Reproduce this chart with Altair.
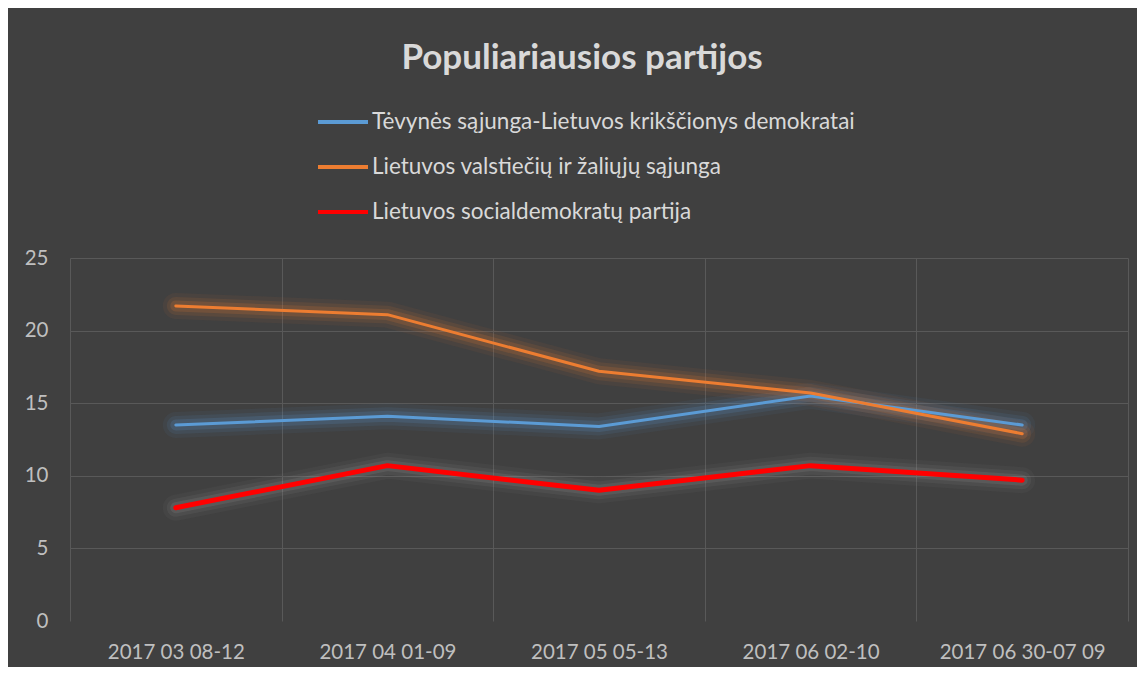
import altair as alt
import pandas as pd

periods = ["2017 03 08-12", "2017 04 01-09", "2017 05 05-13", "2017 06 02-10", "2017 06 30-07 09"]
series = [
    "Tėvynės sąjunga-Lietuvos krikščionys demokratai",
    "Lietuvos valstiečių ir žaliųjų sąjunga",
    "Lietuvos socialdemokratų partija",
]
ts_lkd = [13.5, 14.1, 13.4, 15.5, 13.5]
lvzs = [21.7, 21.1, 17.2, 15.7, 12.9]
lsdp = [7.8, 10.7, 9.0, 10.7, 9.7]
colors = ["#5B9BD5", "#ED7D31", "#FF0000"]
glow_colors = ["#5B9BD5", "#ED7D31", "#9a9a9a"]

rows = []
for s, vals in zip(series, [ts_lkd, lvzs, lsdp]):
    for i, (p, v) in enumerate(zip(periods, vals)):
        rows.append({"period": p, "series": s, "value": v, "order": i})
df = pd.DataFrame(rows)

FONT = "Lato"
LABEL_COLOR = "#bfbfbf"
GRID = "#595959"

x_enc = alt.X(
    "period:N",
    sort=periods,
    bandPosition=0.5,
    scale=alt.Scale(type="band", paddingInner=0, paddingOuter=0),
    axis=alt.Axis(
        title=None, labelAngle=0, tickBand="extent", grid=True, gridColor=GRID,
        domain=False, ticks=False, labelFontSize=20.5, labelColor=LABEL_COLOR,
        labelPadding=21, labelFont=FONT,
    ),
)
y_enc = alt.Y(
    "value:Q",
    scale=alt.Scale(domain=[0, 25]),
    axis=alt.Axis(
        title=None, values=[0, 5, 10, 15, 20, 25], grid=True, gridColor=GRID,
        gridOpacity=alt.expr("datum.value == 0 ? 0 : 1"),
        domain=False, ticks=False, labelFontSize=20.5, labelColor=LABEL_COLOR,
        labelPadding=22, labelFont=FONT,
    ),
)

base = alt.Chart(df)

glow_layers = []
for s, gc in zip(series, glow_colors):
    for w, op in [(26, 0.06), (18, 0.10), (11, 0.16)]:
        glow_layers.append(
            base.transform_filter(alt.datum.series == s).mark_line(
                strokeWidth=w, opacity=op, strokeCap="round", strokeJoin="round", color=gc
            ).encode(x=x_enc, y=y_enc, order="order:Q")
        )

color_enc = alt.Color(
    "series:N",
    sort=series,
    scale=alt.Scale(domain=series, range=colors),
    legend=alt.Legend(
        title=None, orient="none", legendX=246, legendY=-163, direction="vertical",
        symbolType="stroke", symbolSize=2500, symbolStrokeWidth=4,
        labelFontSize=22.5, labelColor="#d9d9d9", labelFont=FONT, labelLimit=0,
        rowPadding=6, labelOffset=2,
    ),
)

thin = base.transform_filter(alt.datum.series != series[2]).mark_line(
    strokeWidth=3, strokeCap="round", strokeJoin="round"
).encode(x=x_enc, y=y_enc, color=color_enc, order="order:Q")

thick = base.transform_filter(alt.datum.series == series[2]).mark_line(
    strokeWidth=5, strokeCap="round", strokeJoin="round"
).encode(x=x_enc, y=y_enc, color=color_enc, order="order:Q")

chart = alt.layer(*glow_layers, thin, thick).properties(
    width=1058,
    height=363,
    autosize=alt.AutoSizeParams(type="none"),
    padding={"left": 62, "top": 250, "right": 9, "bottom": 46},
    background="#404040",
    title=alt.TitleParams(
        "Populiariausios partijos", fontSize=35, fontWeight="bold", color="#d9d9d9",
        font=FONT, anchor="middle", offset=19, dx=-17,
    ),
).configure_view(stroke=None)

chart.save("out.html", embed_options={"renderer": "svg", "actions": False})
